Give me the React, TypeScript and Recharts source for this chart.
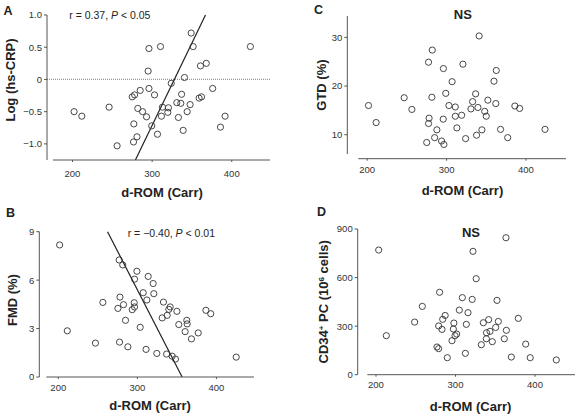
import React from 'react';
import { ScatterChart, Scatter, XAxis, YAxis, ReferenceLine } from 'recharts';

const FONT = '"Liberation Sans", Arial, Helvetica, sans-serif';
const AXIS = '#555';
const TICK = '#333';
const INK = '#222';

// ---- Panel A: Log (hs-CRP) vs d-ROM
const aDrom = [202, 211.7, 246, 256, 275, 278, 285, 282, 288, 293, 277, 281, 276.6, 296, 295, 296, 303, 299.5, 306.7, 310.5, 313, 311.7, 319.7, 320.5, 324, 331, 333, 336, 337, 339, 340.6, 344, 347.7, 349, 351.5, 360.7, 368, 359, 362, 376, 385.8, 391.6, 423.4];
const aLogCrp = [-0.5, -0.57, -0.43, -1.03, -0.27, -0.24, -0.17, -0.45, -0.5, -0.58, -0.69, -0.89, -0.97, 0.48, 0.13, -0.14, -0.24, -0.72, -0.85, 0.51, -0.43, -0.57, -0.51, -0.44, -0.06, -0.36, -0.59, -0.37, -0.23, -0.79, 0.03, -0.5, -0.39, 0.72, 0.51, 0.21, 0.25, -0.29, -0.27, -0.14, -0.74, -0.57, 0.51];
const aFit = [{ x: 279, y: -1.25 }, { x: 367, y: 1.0 }];
const aYTicks = [-1, -0.5, 0, 0.5, 1];

// ---- Panel B: FMD vs d-ROM
const bDrom = [201.7, 211.4, 247, 256.4, 277, 281.5, 278, 275.4, 282.5, 285, 277.5, 288, 293.5, 296, 296.4, 296.4, 299.4, 303.6, 307.4, 312, 313.7, 320, 320.8, 311, 324.6, 331.4, 333, 337.7, 339.8, 341.5, 337, 344, 348.2, 350, 352.4, 360.4, 362.5, 363, 368.4, 377, 386.7, 392.8, 425];
const bFmd = [8.18, 2.86, 2.1, 4.62, 7.25, 6.94, 4.95, 4.25, 4.48, 3.51, 2.16, 1.87, 4.17, 4.6, 4.34, 6.06, 6.55, 3.08, 5.22, 4.77, 6.23, 5.79, 5.16, 1.71, 1.46, 3.66, 4.64, 3.82, 4.19, 4.34, 1.42, 1.29, 1.11, 4.07, 3.25, 2.81, 3.51, 3.29, 2.36, 2.73, 4.13, 3.92, 1.23];
const bFit = [{ x: 262.3, y: 9 }, { x: 356.6, y: 0 }];
const bYTicks = [0, 3, 6, 9];

// ---- Panel C: GTD vs d-ROM
const cDrom = [201.7, 211.3, 246.6, 256.3, 277.3, 282, 281.5, 278, 277.3, 275, 285, 287.8, 293.7, 296.6, 295.8, 296, 299, 303, 307, 311, 311, 313, 319, 320.6, 324, 330.7, 332.8, 336.6, 339.5, 341, 337.8, 344.5, 348, 350, 352, 359.7, 362, 362.6, 368, 377, 386, 392, 424];
const cGtd = [16.0, 12.5, 17.6, 15.2, 24.9, 27.4, 17.7, 13.4, 12.3, 8.4, 9.4, 11.0, 8.7, 8.0, 13.2, 23.6, 18.5, 16.0, 20.9, 15.7, 13.8, 11.4, 14.0, 24.5, 9.2, 15.3, 16.8, 18.4, 15.6, 30.3, 9.9, 11.0, 14.8, 13.8, 17.1, 21.0, 16.4, 23.2, 11.1, 9.4, 15.9, 15.4, 11.1];
const cYTicks = [10, 20, 30];

// ---- Panel D: CD34+ PC vs d-ROM
const dDrom = [203.4, 213, 248.6, 258.3, 280, 278.8, 283, 283.9, 287, 276.7, 278.8, 289.7, 295.6, 297.3, 298, 299.4, 301.5, 304.8, 308.6, 315.7, 313.6, 312.4, 321, 322, 326, 332.5, 335, 339, 341.7, 338.8, 343.4, 346.3, 350.5, 352.2, 353.9, 361.4, 364, 363.5, 370.2, 379, 388.3, 394, 426.8];
const dCd34 = [770, 241, 325, 422, 509, 301, 280, 342, 366, 171, 161, 105, 210, 282, 319, 241, 251, 399, 476, 383, 311, 132, 465, 762, 593, 185, 321, 259, 340, 222, 268, 204, 292, 459, 329, 222, 274, 846, 109, 348, 189, 105, 91];
const dYTicks = [0, 300, 600, 900];

const xTicks = [200, 300, 400];

const toPoints = (xs: number[], ys: number[]) => xs.map((x, i) => ({ x, y: ys[i] }));
const dataA = toPoints(aDrom, aLogCrp);
const dataB = toPoints(bDrom, bFmd);
const dataC = toPoints(cDrom, cGtd);
const dataD = toPoints(dDrom, dCd34);

const circleShape = (p: any) =>
  p.cx == null ? null : (
    <circle cx={p.cx} cy={p.cy} r={3.1} fill="none" stroke="#333" strokeWidth={0.9} />
  );

const fmtA = (v: number) => (v === 0 ? '0' : v.toFixed(1).replace('-', '\u2212'));

const xTitle = (dx: number, dy: number) => (props: any) => {
  const vb = props.viewBox;
  if (!vb) return null;
  return (
    <text
      x={vb.x + vb.width / 2 + dx}
      y={vb.y + dy}
      textAnchor="middle"
      fontFamily={FONT}
      fontSize={13}
      fontWeight="bold"
      fill={INK}
    >
      d-ROM (Carr)
    </text>
  );
};

const yTitle = (title: React.ReactNode, dx: number, dy: number) => (props: any) => {
  const vb = props.viewBox;
  if (!vb) return null;
  const cx = vb.x + vb.width + dx;
  const cy = vb.y + vb.height / 2 + dy;
  return (
    <text
      x={cx}
      y={cy}
      dy="0.36em"
      transform={`rotate(-90 ${cx} ${cy})`}
      textAnchor="middle"
      fontFamily={FONT}
      fontSize={13}
      fontWeight="bold"
      fill={INK}
    >
      {title}
    </text>
  );
};

const cd34Title = (
  <>
    <tspan>CD34</tspan>
    <tspan fontSize={8} dy={-4}>+</tspan>
    <tspan dy={4}> PC (10</tspan>
    <tspan fontSize={8} dy={-4}>6</tspan>
    <tspan dy={4}> cells)</tspan>
  </>
);

const tickStyle = { fill: TICK, fontSize: 9.5, fontFamily: FONT };

const W = 579;
const H = 419;

const layer: React.CSSProperties = { position: 'absolute', left: 0, top: 0 };

export default function App() {
  return (
    <div style={{ position: 'absolute', left: 0, top: 0, width: W, height: H, background: '#fff' }}>
      {/* Panel A */}
      <div style={layer}>
        <ScatterChart width={W} height={H} margin={{ top: 15, right: 309, bottom: 219, left: 0 }}>
          <XAxis
            type="number"
            dataKey="x"
            domain={[168, 448]}
            ticks={xTicks}
            interval={0}
            allowDataOverflow
            height={40}
            stroke={AXIS}
            axisLine={{ stroke: AXIS, strokeDasharray: '0 6 1000' }}
            tickLine={{ stroke: AXIS }}
            tickSize={2}
            tickMargin={8}
            tick={tickStyle}
            label={xTitle(3.5, 37)}
          />
          <YAxis
            type="number"
            dataKey="y"
            domain={[-1.25, 1]}
            ticks={aYTicks}
            interval={0}
            allowDataOverflow
            width={47}
            stroke={AXIS}
            axisLine={{ stroke: AXIS }}
            tickLine={{ stroke: AXIS }}
            tickSize={3}
            tick={tickStyle}
            tickFormatter={fmtA}
            label={yTitle('Log (hs-CRP)', -37, -7.5)}
          />
          <ReferenceLine y={0} stroke="#999" strokeWidth={1.2} strokeDasharray="1 1" />
          <ReferenceLine segment={aFit} stroke={INK} strokeWidth={1.2} ifOverflow="visible" />
          <Scatter data={dataA} isAnimationActive={false} shape={circleShape} />
        </ScatterChart>
      </div>

      {/* Panel B */}
      <div style={layer}>
        <ScatterChart width={W} height={H} margin={{ top: 231.7, right: 325, bottom: 2, left: 0 }}>
          <XAxis
            type="number"
            dataKey="x"
            domain={[176, 447.5]}
            ticks={xTicks}
            interval={0}
            allowDataOverflow
            height={40}
            stroke={AXIS}
            axisLine={{ stroke: AXIS, strokeDasharray: '0 7 1000' }}
            tickLine={{ stroke: AXIS }}
            tickSize={2}
            tickMargin={5}
            tick={tickStyle}
            label={xTitle(3.4, 33)}
          />
          <YAxis
            type="number"
            dataKey="y"
            domain={[0, 9]}
            ticks={bYTicks}
            interval={0}
            allowDataOverflow
            width={39.3}
            stroke={AXIS}
            axisLine={{ stroke: AXIS }}
            tickLine={{ stroke: AXIS }}
            tickSize={3}
            tick={tickStyle}
            label={yTitle('FMD (%)', -27.3, -4.3)}
          />
          <ReferenceLine segment={bFit} stroke={INK} strokeWidth={1.2} ifOverflow="visible" />
          <Scatter data={dataB} isAnimationActive={false} shape={circleShape} />
        </ScatterChart>
      </div>

      {/* Panel C */}
      <div style={layer}>
        <ScatterChart width={W} height={H} margin={{ top: 16, right: 13, bottom: 220.3, left: 290 }}>
          <XAxis
            type="number"
            dataKey="x"
            domain={[175, 450.4]}
            ticks={xTicks}
            interval={0}
            allowDataOverflow
            height={40}
            stroke={AXIS}
            axisLine={{ stroke: AXIS, strokeDasharray: '0 11 1000' }}
            tickLine={{ stroke: AXIS }}
            tickSize={2}
            tickMargin={6}
            tick={tickStyle}
            label={xTitle(5.8, 36.3)}
          />
          <YAxis
            type="number"
            dataKey="y"
            domain={[5.07, 34.4]}
            ticks={cYTicks}
            interval={0}
            allowDataOverflow
            width={57.3}
            stroke={AXIS}
            axisLine={{ stroke: AXIS, strokeDasharray: '138 1000' }}
            tickLine={{ stroke: AXIS }}
            tickSize={3}
            tick={tickStyle}
            label={yTitle('GTD (%)', -25.8, -2.3)}
          />
          <Scatter data={dataC} isAnimationActive={false} shape={circleShape} />
        </ScatterChart>
      </div>

      {/* Panel D */}
      <div style={layer}>
        <ScatterChart width={W} height={H} margin={{ top: 229, right: 4, bottom: 4.3, left: 290 }}>
          <XAxis
            type="number"
            dataKey="x"
            domain={[177, 450.3]}
            ticks={xTicks}
            interval={0}
            allowDataOverflow
            height={40}
            stroke={AXIS}
            axisLine={{ stroke: AXIS, strokeDasharray: '0 9.6 1000' }}
            tickLine={{ stroke: AXIS }}
            tickSize={2}
            tickMargin={5}
            tick={tickStyle}
            label={xTitle(4.2, 36.3)}
          />
          <YAxis
            type="number"
            dataKey="y"
            domain={[0, 900]}
            ticks={dYTicks}
            interval={0}
            allowDataOverflow
            width={67.7}
            stroke={AXIS}
            axisLine={{ stroke: AXIS }}
            tickLine={{ stroke: AXIS }}
            tickSize={3}
            tick={tickStyle}
            label={yTitle(cd34Title, -34.2, 0)}
          />
          <Scatter data={dataD} isAnimationActive={false} shape={circleShape} />
        </ScatterChart>
      </div>

      {/* Panel letters and annotations */}
      <svg width={W} height={H} style={{ ...layer, pointerEvents: 'none' }} fontFamily={FONT}>
        <text x={3.5} y={15} fontSize={12.5} fontWeight="bold" fill={INK}>A</text>
        <text x={6} y={216.7} fontSize={12.5} fontWeight="bold" fill={INK}>B</text>
        <text x={314} y={13.5} fontSize={12.5} fontWeight="bold" fill={INK}>C</text>
        <text x={317} y={216} fontSize={12.5} fontWeight="bold" fill={INK}>D</text>

        <text x={69.3} y={19} fontSize={10.5} fill={INK}>
          r = 0.37, <tspan fontStyle="italic">P</tspan> &lt; 0.05
        </text>
        <text x={127.7} y={237.3} fontSize={10.5} fill={INK}>
          r = {'\u2212'}0.40, <tspan fontStyle="italic">P</tspan> &lt; 0.01
        </text>

        <text x={462.8} y={19.3} fontSize={13} fontWeight="bold" fill={INK} textAnchor="middle">NS</text>
        <text x={471} y={237.3} fontSize={13} fontWeight="bold" fill={INK} textAnchor="middle">NS</text>
      </svg>
    </div>
  );
}
